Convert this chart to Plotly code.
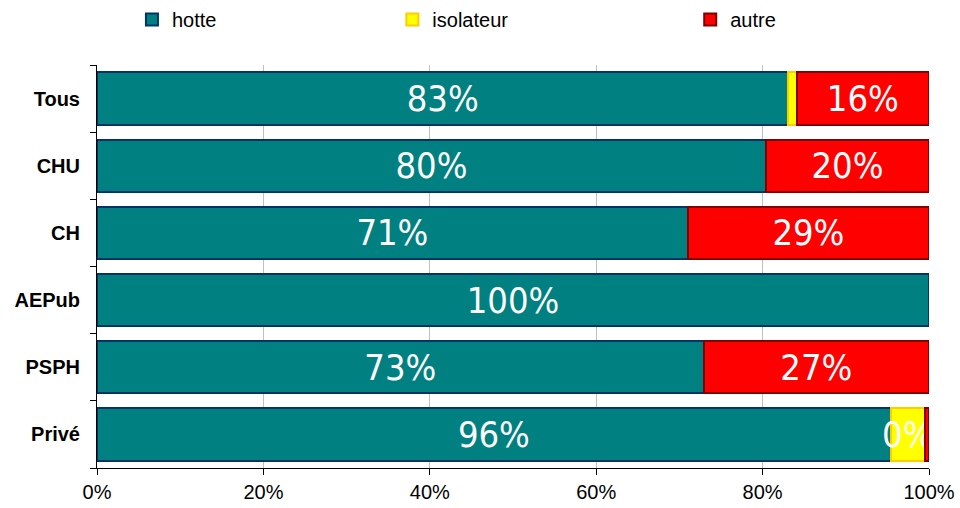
import plotly.graph_objects as go

# catégories (haut -> bas)
categories = ["Tous", "CHU", "CH", "AEPub", "PSPH", "Privé"]

# parts en %
hotte = [83.1, 80.4, 71.0, 100.0, 72.9, 95.4]
isolateur = [1.0, 0.0, 0.0, 0.0, 0.0, 4.1]
autre = [15.9, 19.6, 29.0, 0.0, 27.1, 0.5]

# étiquettes affichées dans les barres
hotte_labels = ["83%", "80%", "71%", "100%", "73%", "96%"]
isolateur_labels = ["", "", "", "", "", "0%"]
autre_labels = ["16%", "20%", "29%", "", "27%", ""]

x_ticks = [0, 20, 40, 60, 80, 100]
x_ticklabels = ["0%", "20%", "40%", "60%", "80%", "100%"]

label_font = dict(family="DejaVu Sans Condensed, Liberation Sans Narrow, sans-serif",
                  size=36, color="white")

fig = go.Figure()
series = [
    ("hotte", hotte, hotte_labels, "#008080", "#003366", "legend", 0.042),
    ("isolateur", isolateur, isolateur_labels, "#FFFF00", "#FFCC00", "legend2", 0.355),
    ("autre", autre, autre_labels, "#FF0000", "#800000", "legend3", 0.713),
]
legends = {}
for name, vals, labels, fill, edge, leg, lx in series:
    # les parts nulles ne sont pas dessinées (sinon le contour reste visible)
    xs = [v if v > 0 else None for v in vals]
    fig.add_trace(go.Bar(
        name=name, y=categories, x=xs, orientation="h",
        text=labels, textposition="inside", insidetextanchor="middle",
        textangle=0, textfont=label_font,
        marker=dict(color=fill, line=dict(color=edge, width=2)),
        hoverinfo="skip", legend=leg,
    ))
    legends[leg] = dict(orientation="h", x=lx, xanchor="left", y=1.0, yref="container",
                        yanchor="top", font=dict(size=20), bgcolor="rgba(0,0,0,0)")

fig.update_layout(
    barmode="stack",
    bargap=0.22,
    width=960, height=508,
    margin=dict(l=97, r=31, t=65, b=40),
    paper_bgcolor="white", plot_bgcolor="white",
    font=dict(family="Liberation Sans, Arial, sans-serif", size=20, color="black"),
    uniformtext=dict(minsize=36, mode="show"),
    showlegend=True,
    **legends,
)
fig.update_xaxes(
    range=[0, 100], tickvals=x_ticks, ticktext=x_ticklabels,
    showgrid=True, gridcolor="#C0C0C0", gridwidth=1,
    showline=True, linecolor="black", linewidth=1,
    ticks="outside", ticklen=6, tickcolor="black",
    zeroline=False, fixedrange=True, automargin=False,
    tickfont=dict(size=20),
)
fig.update_yaxes(
    categoryorder="array", categoryarray=categories[::-1],
    showline=True, linecolor="black", linewidth=1,
    ticks="outside", ticklen=6, tickcolor="black", tickson="boundaries",
    tickfont=dict(family="Liberation Sans, Arial, sans-serif", size=20, color="black",
                  weight="bold"),
    ticklabelstandoff=12, automargin=False, fixedrange=True,
    showgrid=False,
)

# pas de marge du body pour que la figure occupe exactement la fenêtre
fig.write_html("out.html", config={"displayModeBar": False},
               post_script="document.body.style.margin='0';")
